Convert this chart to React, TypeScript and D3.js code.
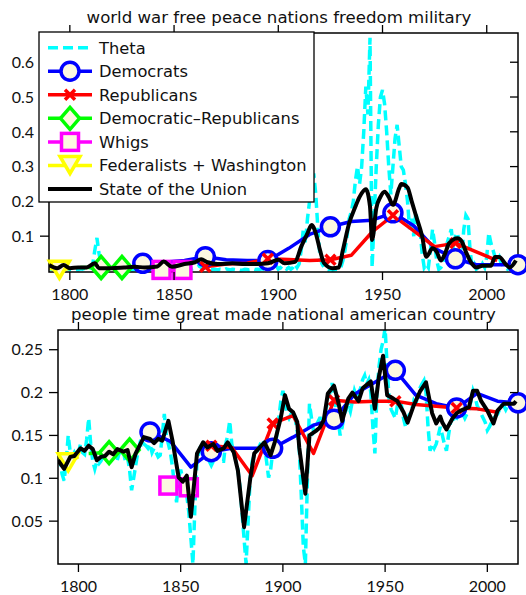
import React from 'react';
import * as d3 from 'd3';

const W = 526;
const H = 595;

const CYAN = '#00ffff';
const BLUE = '#0000ff';
const RED = '#ff0000';
const GREEN = '#00ff00';
const MAGENTA = '#ff00ff';
const YELLOW = '#ffff00';
const CREAM = '#fcf8e0';

const TEXT_FONT = '"DejaVu Sans", sans-serif';
const TICK_FONT = 'Lato, "DejaVu Sans", sans-serif';

// ---------------- data ----------------
const thetaYears = d3.range(1790, 2015);

// topic 1: world war free peace nations freedom military (yearly 1790..2014)
const thetaWar = [
  0.010, 0.005, 0.008, 0.004, 0.006, 0.003, 0.005, 0.010, 0.008, 0.006,
  0.004, 0.003, 0.002, 0.004, 0.003, 0.006, 0.005, 0.008, 0.006, 0.010,
  0.008, 0.020, 0.060, 0.095, 0.050, 0.020, 0.010, 0.006, 0.004, 0.005,
  0.003, 0.004, 0.002, 0.005, 0.003, 0.004, 0.002, 0.003, 0.005, 0.004,
  0.003, 0.005, 0.004, 0.006, 0.003, 0.005, 0.007, 0.004, 0.006, 0.005,
  0.004, 0.006, 0.005, 0.008, 0.006, 0.010, 0.015, 0.020, 0.012, 0.006,
  0.004, 0.005, 0.003, 0.004, 0.006, 0.005, 0.004, 0.003, 0.005, 0.006,
  0.008, 0.012, 0.015, 0.010, 0.012, 0.008, 0.005, 0.004, 0.003, 0.005,
  0.004, 0.003, 0.005, 0.004, 0.003, 0.006, 0.004, 0.003, 0.005, 0.004,
  0.003, 0.004, 0.002, 0.003, 0.005, 0.004, 0.003, 0.004, 0.006, 0.004,
  0.005, 0.004, 0.006, 0.005, 0.004, 0.006, 0.008, 0.010, 0.030, 0.015,
  0.005, 0.010, 0.005, 0.010, 0.005, 0.010, 0.005, 0.010, 0.020, 0.010,
  0.020, 0.060, 0.120, 0.080, 0.150, 0.200, 0.250, 0.280, 0.220, 0.120,
  0.040, 0.020, 0.010, 0.005, 0.003, 0.005, 0.002, 0.003, 0.005, 0.003,
  0.010, 0.030, 0.060, 0.100, 0.150, 0.170, 0.200, 0.260, 0.300, 0.250,
  0.300, 0.400, 0.530, 0.450, 0.670, 0.010, 0.150, 0.300, 0.420, 0.500,
  0.520, 0.480, 0.400, 0.300, 0.220, 0.300, 0.380, 0.420, 0.360, 0.300,
  0.290, 0.250, 0.200, 0.120, 0.150, 0.100, 0.170, 0.130, 0.120, 0.050,
  0.010, 0.020, 0.010, 0.060, 0.120, 0.080, 0.030, 0.005, 0.010, 0.020,
  0.040, 0.080, 0.100, 0.120, 0.060, 0.100, 0.110, 0.060, 0.040, 0.120,
  0.160, 0.150, 0.060, 0.010, 0.020, 0.005, 0.010, 0.005, 0.020, 0.010,
  0.040, 0.110, 0.080, 0.060, 0.040, 0.030, 0.040, 0.020, 0.015, 0.010,
  0.005, 0.010, 0.005, 0.010, 0.020,
];

// topic 2: people time great made national american country (yearly 1790..2014)
const thetaNation = [
  0.125, 0.120, 0.105, 0.097, 0.120, 0.150, 0.130, 0.125, 0.130, 0.125,
  0.130, 0.140, 0.130, 0.128, 0.145, 0.170, 0.140, 0.120, 0.111, 0.120,
  0.117, 0.120, 0.125, 0.130, 0.120, 0.135, 0.125, 0.130, 0.120, 0.121,
  0.130, 0.125, 0.130, 0.120, 0.125, 0.110, 0.086, 0.100, 0.115, 0.130,
  0.140, 0.135, 0.140, 0.138, 0.135, 0.140, 0.130, 0.135, 0.130, 0.125,
  0.127, 0.150, 0.175, 0.150, 0.140, 0.130, 0.113, 0.090, 0.072, 0.100,
  0.110, 0.100, 0.090, 0.080, 0.060, 0.030, 0.000, 0.070, 0.120, 0.130,
  0.140, 0.135, 0.130, 0.125, 0.120, 0.115, 0.120, 0.125, 0.130, 0.125,
  0.120, 0.120, 0.140, 0.150, 0.167, 0.140, 0.130, 0.120, 0.110, 0.090,
  0.060, 0.030, 0.000, 0.050, 0.100, 0.120, 0.127, 0.130, 0.135, 0.140,
  0.145, 0.140, 0.120, 0.101, 0.110, 0.130, 0.135, 0.150, 0.170, 0.190,
  0.202, 0.190, 0.175, 0.170, 0.175, 0.178, 0.170, 0.155, 0.135, 0.080,
  0.020, 0.000, 0.100, 0.187, 0.170, 0.155, 0.160, 0.165, 0.170, 0.170,
  0.175, 0.180, 0.190, 0.200, 0.211, 0.200, 0.180, 0.170, 0.150, 0.160,
  0.175, 0.180, 0.185, 0.178, 0.190, 0.202, 0.195, 0.200, 0.205, 0.215,
  0.220, 0.210, 0.215, 0.200, 0.160, 0.129, 0.200, 0.230, 0.250, 0.260,
  0.275, 0.230, 0.190, 0.180, 0.175, 0.170, 0.185, 0.190, 0.185, 0.170,
  0.160, 0.170, 0.175, 0.180, 0.190, 0.185, 0.200, 0.205, 0.210, 0.214,
  0.200, 0.160, 0.132, 0.140, 0.135, 0.140, 0.150, 0.160, 0.150, 0.140,
  0.132, 0.150, 0.165, 0.170, 0.165, 0.170, 0.175, 0.180, 0.175, 0.170,
  0.175, 0.180, 0.190, 0.202, 0.195, 0.185, 0.180, 0.175, 0.170, 0.165,
  0.156, 0.160, 0.165, 0.170, 0.172, 0.175, 0.180, 0.185, 0.185, 0.180,
  0.185, 0.190, 0.185, 0.180, 0.185,
];

// State of the Union (year, value)
const sotuWar: [number, number][] = [
  [1790, 0.017], [1794, 0.008], [1797, 0.017], [1800, 0.008], [1804, 0.010],
  [1808, 0.010], [1812, 0.022], [1814, 0.008], [1820, 0.008], [1826, 0.010],
  [1831, 0.012], [1836, 0.010], [1842, 0.013], [1845, 0.027], [1849, 0.012],
  [1855, 0.020], [1860, 0.025], [1863, 0.034], [1866, 0.025], [1871, 0.020],
  [1878, 0.022], [1884, 0.020], [1890, 0.020], [1895, 0.022], [1900, 0.032],
  [1903, 0.022], [1908, 0.026], [1911, 0.070], [1914, 0.108], [1916, 0.132],
  [1918, 0.108], [1920, 0.060], [1922, 0.022], [1926, 0.008], [1929, 0.010],
  [1931, 0.060], [1934, 0.137], [1937, 0.185], [1939, 0.213], [1942, 0.235],
  [1944, 0.185], [1945, 0.089], [1947, 0.180], [1949, 0.213], [1951, 0.228],
  [1953, 0.213], [1955, 0.190], [1958, 0.238], [1959, 0.250], [1962, 0.240],
  [1964, 0.200], [1966, 0.160], [1969, 0.100], [1971, 0.041], [1974, 0.065],
  [1976, 0.055], [1978, 0.030], [1980, 0.050], [1982, 0.080], [1986, 0.094],
  [1988, 0.085], [1990, 0.055], [1993, 0.020], [1995, 0.010], [1998, 0.015],
  [2002, 0.015], [2004, 0.040], [2006, 0.040], [2009, 0.020], [2011, 0.010],
  [2014, 0.030],
];

const sotuNation: [number, number][] = [
  [1790, 0.121], [1793, 0.111], [1796, 0.125], [1798, 0.126], [1801, 0.135],
  [1803, 0.132], [1805, 0.138], [1807, 0.134], [1809, 0.121], [1811, 0.125],
  [1813, 0.126], [1815, 0.131], [1817, 0.128], [1819, 0.134], [1822, 0.131],
  [1824, 0.133], [1826, 0.113], [1828, 0.129], [1832, 0.148], [1835, 0.146],
  [1837, 0.141], [1839, 0.146], [1841, 0.144], [1844, 0.167], [1846, 0.144],
  [1849, 0.101], [1851, 0.096], [1853, 0.103], [1855, 0.055], [1858, 0.129],
  [1861, 0.142], [1863, 0.136], [1866, 0.140], [1868, 0.132], [1871, 0.135],
  [1873, 0.142], [1876, 0.130], [1878, 0.109], [1881, 0.043], [1884, 0.099],
  [1886, 0.129], [1889, 0.137], [1891, 0.142], [1894, 0.127], [1896, 0.142],
  [1899, 0.171], [1901, 0.197], [1903, 0.181], [1905, 0.177], [1907, 0.166],
  [1908, 0.136], [1911, 0.082], [1913, 0.150], [1916, 0.155], [1918, 0.159],
  [1920, 0.168], [1922, 0.199], [1925, 0.208], [1927, 0.190], [1929, 0.167],
  [1932, 0.193], [1934, 0.200], [1937, 0.190], [1939, 0.205], [1942, 0.211],
  [1943, 0.213], [1945, 0.181], [1947, 0.219], [1949, 0.243], [1951, 0.197],
  [1954, 0.193], [1956, 0.190], [1959, 0.177], [1961, 0.165], [1964, 0.185],
  [1967, 0.201], [1970, 0.212], [1973, 0.176], [1975, 0.164], [1977, 0.172],
  [1978, 0.165], [1980, 0.157], [1983, 0.170], [1985, 0.176], [1987, 0.179],
  [1991, 0.183], [1993, 0.202], [1995, 0.202], [1997, 0.190], [2000, 0.179],
  [2003, 0.164], [2005, 0.179], [2008, 0.187], [2010, 0.187], [2013, 0.187],
  [2014, 0.190],
];

// parties
const demYears = [1835, 1845, 1855, 1865, 1875, 1885, 1895, 1905, 1915, 1925, 1935, 1945, 1955, 1965, 1975, 1985, 1995, 2005, 2015];
const demMarkers = [1835, 1865, 1895, 1925, 1955, 1985, 2015];
const demWar = [0.022, 0.025, 0.030, 0.041, 0.032, 0.030, 0.030, 0.065, 0.105, 0.127, 0.142, 0.146, 0.167, 0.130, 0.065, 0.035, 0.018, 0.018, 0.018];
const demNation = [0.154, 0.143, 0.113, 0.131, 0.135, 0.135, 0.135, 0.148, 0.162, 0.169, 0.198, 0.212, 0.226, 0.197, 0.187, 0.182, 0.199, 0.190, 0.188];

const repYears = [1865, 1875, 1885, 1895, 1905, 1915, 1925, 1935, 1945, 1955, 1965, 1975, 1985, 1995, 2005];
const repMarkers = [1865, 1895, 1925, 1955, 1985];
const repWar = [0.012, 0.020, 0.022, 0.035, 0.033, 0.030, 0.032, 0.045, 0.112, 0.160, 0.115, 0.070, 0.080, 0.055, 0.030];
const repNation = [0.138, 0.136, 0.103, 0.164, 0.173, 0.129, 0.191, 0.189, 0.190, 0.190, 0.186, 0.184, 0.182, 0.181, 0.177];

const drYears = [1805, 1815, 1825];
const drMarkers = [1815, 1825];
const drWar = [0.010, 0.010, 0.010];
const drNation = [0.129, 0.130, 0.133];

const whigYears = [1844, 1854];
const whigMarkers = [1844, 1854];
const whigWar = [0.003, 0.003];
const whigNation = [0.0915, 0.0895];

const fedYears = [1790, 1795, 1800];
const fedMarkers = [1795];
const fedWar = [0.008, 0.002, 0.008];
const fedNation = [0.125, 0.118, 0.125];

const xTicks = [1800, 1850, 1900, 1950, 2000];
const warTicks = [0.1, 0.2, 0.3, 0.4, 0.5, 0.6];
const nationTicks = [0.05, 0.1, 0.15, 0.2, 0.25];

const legendLabels = ['Theta', 'Democrats', 'Republicans', 'Democratic\u2013Republicans', 'Whigs', 'Federalists + Washington', 'State of the Union'];

// ---------------- drawing ----------------
type MarkerKind = 'circle' | 'x' | 'diamond' | 'square' | 'tri';

function Marker({ kind, color, cx, cy }: { kind: MarkerKind; color: string; cx: number; cy: number }) {
  const t = `translate(${cx},${cy})`;
  if (kind === 'circle') return <circle cx={cx} cy={cy} r={9} fill={CREAM} stroke={color} strokeWidth={3.5} />;
  if (kind === 'x') return <path transform={t} d="M-5,-5L5,5M-5,5L5,-5" stroke={color} strokeWidth={3.5} fill="none" />;
  if (kind === 'diamond') return <path transform={t} d="M0,-11L9.5,0L0,11L-9.5,0Z" fill={CREAM} stroke={color} strokeWidth={3.5} />;
  if (kind === 'square') return <rect x={cx - 8.5} y={cy - 8.5} width={17} height={17} fill={CREAM} stroke={color} strokeWidth={3.5} />;
  return <path transform={t} d="M-10,-9L10,-9L0,8Z" fill={CREAM} stroke={color} strokeWidth={3.5} strokeLinejoin="miter" />;
}

const partyStyles: { color: string; kind: MarkerKind; years: number[]; markers: number[] }[] = [
  { color: BLUE, kind: 'circle', years: demYears, markers: demMarkers },
  { color: RED, kind: 'x', years: repYears, markers: repMarkers },
  { color: GREEN, kind: 'diamond', years: drYears, markers: drMarkers },
  { color: MAGENTA, kind: 'square', years: whigYears, markers: whigMarkers },
  { color: YELLOW, kind: 'tri', years: fedYears, markers: fedMarkers },
];

interface PanelCfg {
  id: string;
  title: string;
  left: number;
  right: number;
  top: number;
  bottom: number;
  yDomain: [number, number];
  yTicks: number[];
  theta: number[];
  sotu: [number, number][];
  partyValues: number[][];
  smooth: boolean;
  legend: boolean;
}

function Legend() {
  const x0 = 39, y0 = 32, w = 275, h = 170;
  const rowY = (i: number) => 47.7 + i * 23.55;
  const entries = [
    { color: CYAN, dashed: true, kind: null as MarkerKind | null, width: 3.5 },
    { color: BLUE, dashed: false, kind: 'circle' as MarkerKind, width: 3.5 },
    { color: RED, dashed: false, kind: 'x' as MarkerKind, width: 3.5 },
    { color: GREEN, dashed: false, kind: 'diamond' as MarkerKind, width: 3.5 },
    { color: MAGENTA, dashed: false, kind: 'square' as MarkerKind, width: 3.5 },
    { color: YELLOW, dashed: false, kind: 'tri' as MarkerKind, width: 3.5 },
    { color: '#000', dashed: false, kind: null as MarkerKind | null, width: 4 },
  ];
  return (
    <g>
      <rect x={x0} y={y0} width={w} height={h} fill="#fff" stroke="#000" strokeWidth={1.3} />
      {entries.map((e, i) => (
        <g key={i}>
          <line x1={48} x2={92} y1={rowY(i)} y2={rowY(i)} stroke={e.color} strokeWidth={e.width}
            strokeDasharray={e.dashed ? '10,5' : undefined} />
          {e.kind && <Marker kind={e.kind} color={e.color} cx={70} cy={rowY(i)} />}
          <text x={99} y={rowY(i)} dy="0.36em" fontFamily={TEXT_FONT} fontSize={16.3} fill="#111">{legendLabels[i]}</text>
        </g>
      ))}
    </g>
  );
}

function Panel({ cfg }: { cfg: PanelCfg }) {
  const x = d3.scaleLinear().domain([1790, 2015]).range([cfg.left, cfg.right]);
  const y = d3.scaleLinear().domain(cfg.yDomain).range([cfg.bottom, cfg.top]);
  const thetaLine = d3.line<number>().x((_, i) => x(thetaYears[i])).y((d) => y(d));
  const sotuLine = d3.line<[number, number]>().x((d) => x(d[0])).y((d) => y(d[1]))
    .curve(cfg.smooth ? d3.curveMonotoneX : d3.curveLinear);
  const partyLine = d3.line<[number, number]>().x((d) => x(d[0])).y((d) => y(d[1]));
  const clipId = `clip-${cfg.id}`;
  const cx = (cfg.left + cfg.right) / 2 - 4.5;
  const partyPts = partyStyles.map((p, pi) => p.years.map((yr, i) => [yr, cfg.partyValues[pi][i]] as [number, number]));
  return (
    <g>
      <defs>
        <clipPath id={clipId}>
          <rect x={cfg.left} y={cfg.top} width={cfg.right - cfg.left} height={cfg.bottom - cfg.top} />
        </clipPath>
      </defs>
      <rect x={cfg.left} y={cfg.top} width={cfg.right - cfg.left} height={cfg.bottom - cfg.top} fill="#fff" />
      <g clipPath={`url(#${clipId})`}>
        <path d={thetaLine(cfg.theta) || ''} fill="none" stroke={CYAN} strokeWidth={3.5} strokeDasharray="10,5" />
        {partyStyles.map((p, pi) => (
          <path key={pi} d={partyLine(partyPts[pi]) || ''} fill="none" stroke={p.color} strokeWidth={3.5} strokeLinejoin="round" />
        ))}
      </g>
      {/* frame */}
      <rect x={cfg.left} y={cfg.top} width={cfg.right - cfg.left} height={cfg.bottom - cfg.top} fill="none" stroke="#000" strokeWidth={1.5} />
      {partyStyles.map((p, pi) => (
        <g key={pi}>
          {partyPts[pi].filter((d) => p.markers.includes(d[0])).map((d, k) => (
            <Marker key={k} kind={p.kind} color={p.color} cx={x(d[0])} cy={y(d[1])} />
          ))}
        </g>
      ))}
      <g clipPath={`url(#${clipId})`}>
        <path d={sotuLine(cfg.sotu) || ''} fill="none" stroke="#000" strokeWidth={4} strokeLinejoin="round" />
      </g>
      {/* x ticks */}
      {xTicks.map((t) => (
        <g key={t}>
          <line x1={x(t)} x2={x(t)} y1={cfg.bottom} y2={cfg.bottom + 8} stroke="#000" strokeWidth={1.3} />
          <line x1={x(t)} x2={x(t)} y1={cfg.top} y2={cfg.top - 8} stroke="#000" strokeWidth={1.3} />
          <text x={x(t)} y={cfg.bottom + 28} textAnchor="middle" fontFamily={TICK_FONT} fontSize={16} fill="#111">{t}</text>
        </g>
      ))}
      {/* y ticks */}
      {cfg.yTicks.map((t) => (
        <g key={t}>
          <line x1={cfg.left} x2={cfg.left - 9} y1={y(t)} y2={y(t)} stroke="#000" strokeWidth={1.3} />
          <line x1={cfg.right} x2={cfg.right - 8} y1={y(t)} y2={y(t)} stroke="#000" strokeWidth={1.3} />
          <text x={cfg.left - 15} y={y(t)} dy="0.36em" textAnchor="end" fontFamily={TICK_FONT} fontSize={16} fill="#111">{String(t)}</text>
        </g>
      ))}
      <text x={cx} y={cfg.top - 10} textAnchor="middle" fontFamily={TEXT_FONT} fontSize={16.6} fill="#111">{cfg.title}</text>
      {cfg.legend && <Legend />}
    </g>
  );
}

const panels: PanelCfg[] = [
  {
    id: 'war',
    title: 'world war free peace nations freedom military',
    left: 49, right: 518, top: 33, bottom: 272,
    yDomain: [-0.003, 0.684],
    yTicks: warTicks,
    theta: thetaWar,
    sotu: sotuWar,
    partyValues: [demWar, repWar, drWar, whigWar, fedWar],
    smooth: true,
    legend: true,
  },
  {
    id: 'nation',
    title: 'people time great made national american country',
    left: 58, right: 518, top: 330, bottom: 564,
    yDomain: [0, 0.273],
    yTicks: nationTicks,
    theta: thetaNation,
    sotu: sotuNation,
    partyValues: [demNation, repNation, drNation, whigNation, fedNation],
    smooth: false,
    legend: false,
  },
];

export default function App() {
  return (
    <svg width={W} height={H} viewBox={`0 0 ${W} ${H}`}
      style={{ position: 'absolute', left: 0, top: 0, background: '#fff', display: 'block' }}>
      <rect x={0} y={0} width={W} height={H} fill="#fff" />
      {panels.map((p) => <Panel key={p.id} cfg={p} />)}
    </svg>
  );
}
